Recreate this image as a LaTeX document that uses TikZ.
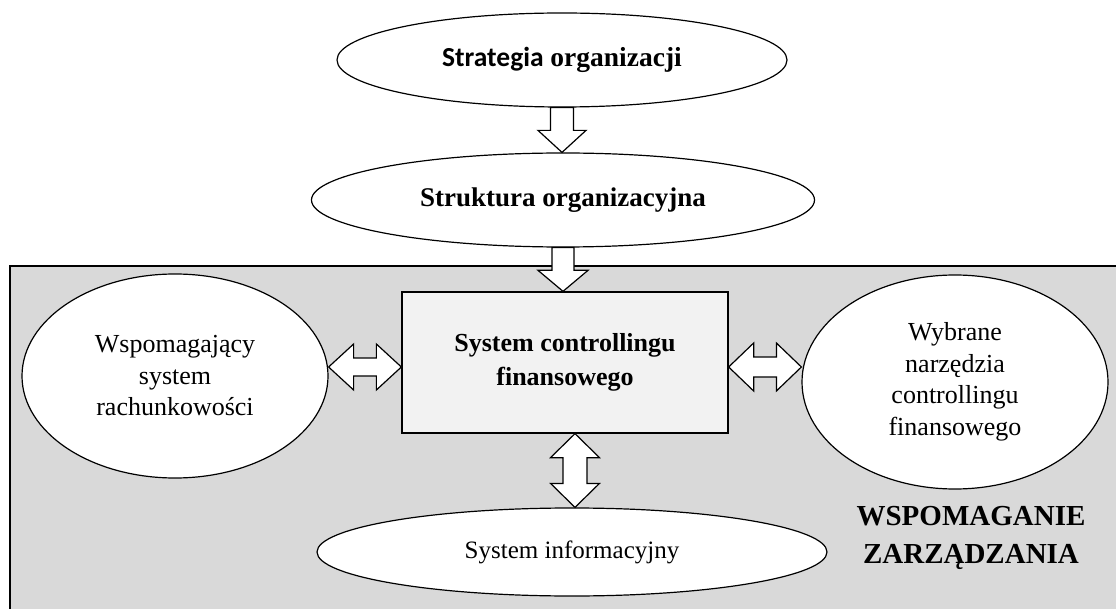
\documentclass[tikz,border=0pt]{standalone}
\usepackage{fontspec}
\setmainfont{Liberation Serif}
\newfontfamily\calib{Carlito}
\usetikzlibrary{shapes.geometric,calc}
\definecolor{bggray}{HTML}{D9D9D9}
\definecolor{boxgray}{HTML}{F2F2F2}
\tikzset{
  oval/.style={ellipse, draw=black, line width=1.2pt, fill=white, inner sep=0pt, align=center},
  mainbox/.style={rectangle, draw=black, line width=1.3pt, fill=boxgray, inner sep=0pt, align=center},
  blockarrow/.style={draw=black, line width=1.2pt, fill=white, line join=miter},
  txt/.style={font=\fontsize{26}{31.5}\selectfont},
  btxt/.style={font=\fontsize{26}{34}\selectfont\bfseries},
}
\begin{document}
\begin{tikzpicture}[x=1pt,y=-1pt]
\useasboundingbox (0,0) rectangle (1116,609);
% background area
\fill[bggray] (10,266) rectangle (1130,620);
\draw[line width=2pt] (10,620) -- (10,266) -- (1130,266);
% nodes
\node[oval, minimum width=450, minimum height=94, font=\fontsize{27.5}{30}\selectfont\bfseries] (strat) at (562,60)
  {{\calib Strategia} organizacji};
\node[oval, minimum width=503, minimum height=94, font=\fontsize{27}{30}\selectfont\bfseries] (struk) at (563,200)
  {Struktura organizacyjna};
\node[mainbox, minimum width=326, minimum height=141, btxt] (sys) at (565,362.5)
  {System controllingu\\finansowego};
\node[oval, minimum width=306, minimum height=204, txt] (rach) at (175,376)
  {Wspomagający\\system\\rachunkowości};
\node[oval, minimum width=306, minimum height=214, txt] (narz) at (955,382)
  {Wybrane\\narzędzia\\controllingu\\finansowego};
\node[oval, minimum width=510, minimum height=88, font=\fontsize{25}{30}\selectfont] (info) at (572,552)
  {System informacyjny};
\node[align=center, font=\fontsize{29}{38}\selectfont\bfseries] (wsp) at (971,538)
  {WSPOMAGANIE\\ZARZĄDZANIA};
% arrow strat -> struk
\draw[blockarrow] let \p1=(strat.south), \p2=(struk.north) in
  (\x1-11.5pt,\y1) -- (\x1+11.5pt,\y1) -- (\x1+11.5pt,\y2+22pt) -- (\x1+24pt,\y2+22pt)
  -- (\x1,\y2) -- (\x1-24pt,\y2+22pt) -- (\x1-11.5pt,\y2+22pt) -- cycle;
% arrow struk -> sys
\draw[blockarrow] let \p1=(struk.south), \p2=(sys.north) in
  (\x1-11pt,\y1) -- (\x1+11pt,\y1) -- (\x1+11pt,\y2+21pt) -- (\x1+25pt,\y2+21pt)
  -- (\x1,\y2) -- (\x1-25pt,\y2+21pt) -- (\x1-11pt,\y2+21pt) -- cycle;
% double arrow rach <-> sys
\draw[blockarrow] let \p1=(rach.east), \p2=(sys.west), \p3=(0,367) in
  (\x1,\y3) -- (\x1+25pt,\y3+23pt) -- (\x1+25pt,\y3+9pt) -- (\x2-25pt,\y3+9pt)
  -- (\x2-25pt,\y3+23pt) -- (\x2,\y3) -- (\x2-25pt,\y3-23pt) -- (\x2-25pt,\y3-9pt)
  -- (\x1+25pt,\y3-9pt) -- (\x1+25pt,\y3-23pt) -- cycle;
% double arrow sys <-> narz
\draw[blockarrow] let \p1=(sys.east), \p2=(narz.west), \p3=(0,367) in
  (\x1,\y3) -- (\x1+25pt,\y3+24pt) -- (\x1+25pt,\y3+10pt) -- (\x2-25pt,\y3+10pt)
  -- (\x2-25pt,\y3+24pt) -- (\x2,\y3) -- (\x2-25pt,\y3-24pt) -- (\x2-25pt,\y3-10pt)
  -- (\x1+25pt,\y3-10pt) -- (\x1+25pt,\y3-24pt) -- cycle;
% double arrow sys <-> info
\draw[blockarrow] let \p1=(sys.south), \p2=(info.north), \p3=(575,0) in
  (\x3,\y1) -- (\x3+24.5pt,\y1-24pt) -- (\x3+12pt,\y1-24pt) -- (\x3+12pt,\y2+24pt)
  -- (\x3+24.5pt,\y2+24pt) -- (\x3,\y2) -- (\x3-24.5pt,\y2+24pt) -- (\x3-12pt,\y2+24pt)
  -- (\x3-12pt,\y1-24pt) -- (\x3-24.5pt,\y1-24pt) -- cycle;
\end{tikzpicture}
\end{document}
